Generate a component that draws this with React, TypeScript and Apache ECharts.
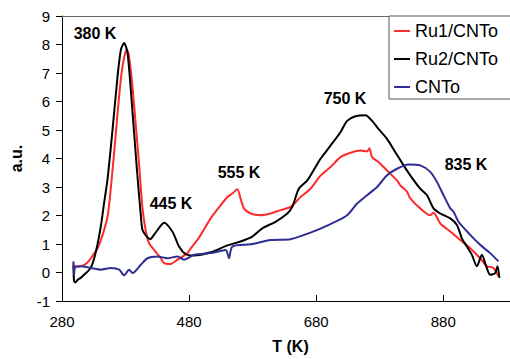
import React, { useEffect, useRef } from "react";
import * as echarts from "echarts";

const seriesNames = ["Ru1/CNTo", "Ru2/CNTo", "CNTo"];
const seriesColors = ["#ff2a2a", "#000000", "#2e2e94"];

const xTicks = [280, 480, 680, 880];

const peakLabels = ["380 K", "445 K", "555 K", "750 K", "835 K"];

// [T (K), a.u.]
const ru1: [number, number][] = [
  [298, 0.32], [299, 0.15], [301, 0.22], [306, 0.2], [315, 0.27], [320, 0.35], [325.5, 0.5],
  [331, 0.68], [336, 0.85], [344, 1.32], [352, 2.01], [357, 3.0], [362, 4.2], [367.5, 5.6],
  [372.7, 6.8], [377.8, 7.55], [382, 7.82], [385.7, 7.55], [391, 6.5], [396.2, 5.15],
  [401.4, 3.76], [406.7, 2.25], [412, 1.44], [417, 1.03], [425, 0.79], [435.5, 0.5],
  [440.7, 0.33], [451, 0.3], [461.7, 0.45], [477.4, 0.68], [482.6, 0.85], [493, 1.14],
  [498.3, 1.32], [514, 1.9], [529.7, 2.36], [540.3, 2.65], [548, 2.77], [556, 2.92],
  [561, 2.6], [566.3, 2.25], [576.8, 2.07], [592.5, 2.01], [608.3, 2.07], [624, 2.19],
  [639.7, 2.3], [655.4, 2.65], [671, 2.94], [686.8, 3.4], [702.5, 3.7], [718.2, 4.05],
  [734, 4.2], [749.6, 4.28], [760, 4.25], [763.7, 4.36], [768, 4.05], [778.4, 3.87],
  [791.5, 3.58], [807.2, 3.23], [812.4, 3.06], [823, 2.83], [828, 2.6], [843.8, 2.25],
  [859.5, 2.01], [864.7, 2.1], [875.3, 1.72], [891, 1.44], [906.7, 1.14], [922.4, 0.85],
  [938, 0.5], [948.6, 0.22], [959, 0.16], [966.8, -0.13],
];

const ru2: [number, number][] = [
  [298, 0.25], [299, -0.3], [301, -0.35], [305, -0.25], [310, -0.18], [316, -0.05],
  [321, 0.05], [326, 0.2], [330.7, 0.5], [336, 1.0], [341.3, 1.65], [346, 2.4], [351.8, 3.3],
  [359.6, 5.03], [367.5, 6.9], [372.7, 7.82], [377.8, 8.05], [383.2, 7.7], [391, 5.62],
  [397.8, 3.64], [404, 2.01], [406.7, 1.49], [413.5, 1.26], [418.7, 1.17], [427.6, 1.41],
  [440.7, 1.75], [453.9, 1.43], [464.2, 0.91], [474.8, 0.64], [487.8, 0.6], [514, 0.71],
  [540.3, 0.95], [561, 1.09], [579.5, 1.26], [595.2, 1.55], [616, 1.78], [634.5, 2.07],
  [642.3, 2.3], [652.7, 2.94], [666, 3.23], [679, 3.7], [686.8, 3.99], [702.5, 4.45],
  [718.2, 4.92], [728.7, 5.32], [741.8, 5.48], [757.5, 5.52], [768, 5.32], [778.4, 5.03],
  [791.5, 4.69], [804.6, 4.22], [817.6, 3.76], [828, 3.41], [843.8, 2.94], [854.4, 2.71],
  [864.7, 2.25], [875.3, 2.07], [891, 1.9], [901.5, 1.67], [909.3, 1.2], [917.2, 0.91],
  [925, 0.62], [932.9, 0.22], [940.7, 0.62], [947.5, 0.22], [953.8, -0.08], [961.6, -0.02],
  [965.3, 0.22], [968.4, -0.19],
];

const cnto: [number, number][] = [
  [298, 0.39], [299, -0.08], [301, 0.2], [309.8, 0.22], [325.5, 0.16], [341.3, 0.1],
  [357, 0.16], [370, 0.1], [377.8, -0.1], [385.7, 0.1], [391, -0.02], [404, 0.27],
  [414.6, 0.5], [430.3, 0.56], [446, 0.5], [461.7, 0.56], [472, 0.45], [487.8, 0.62],
  [514, 0.68], [537.6, 0.79], [542.8, 0.5], [548, 0.91], [576.8, 0.99], [608.3, 1.14],
  [639.7, 1.17], [671, 1.4], [702.5, 1.7], [728.7, 2.01], [744.4, 2.42], [760, 2.71],
  [775.8, 3.0], [791.5, 3.41], [807.2, 3.64], [825.5, 3.79], [843.8, 3.76], [859.5, 3.53],
  [870, 3.18], [880.4, 2.71], [891, 2.25], [896.2, 2.13], [904, 1.78], [922.4, 1.32],
  [938, 0.97], [953.8, 0.68], [966.8, 0.39],
];

const seriesData = [ru1, ru2, cnto];

const FONT = "'Liberation Sans', Arial, sans-serif";

export default function App() {
  const ref = useRef<HTMLDivElement>(null);
  useEffect(() => {
    document.body.style.margin = "0";
    if (!ref.current) return;
    const chart = echarts.init(ref.current, undefined, { renderer: "svg" });
    const labelPos = [
      [95, 33],
      [171, 203],
      [239, 172],
      [345, 98],
      [466, 164],
    ];
    chart.setOption({
      animation: false,
      backgroundColor: "#fff",
      grid: { left: 61, right: 0, top: 16, bottom: 56, containLabel: false },
      legend: {
        data: seriesNames,
        orient: "vertical",
        left: 389,
        top: 16,
        icon: "rect",
        itemWidth: 16,
        itemHeight: 2,
        itemGap: 10,
        padding: [6, 30, 3, 5],
        backgroundColor: "#fff",
        borderColor: "#555",
        borderWidth: 1,
        borderRadius: 0,
        textStyle: { fontSize: 18, color: "#000", fontFamily: FONT },
      },
      xAxis: [
        {
          type: "value",
          min: 280,
          max: 985,
          interval: 200,
          name: "T (K)",
          nameLocation: "middle",
          nameGap: 37,
          nameTextStyle: { fontSize: 16, fontWeight: "bold", color: "#000", fontFamily: FONT, padding: [0, 0, 0, 9] },
          axisLine: { show: true, onZero: false, lineStyle: { color: "#000", width: 1 } },
          axisTick: { show: true, inside: true, length: 6, lineStyle: { color: "#000" } },
          axisLabel: {
            showMaxLabel: false,
            margin: 13,
            fontSize: 15,
            color: "#000",
            fontFamily: FONT,
            formatter: (v: number) => (xTicks.includes(v) ? String(v) : ""),
          },
          splitLine: { show: false },
        },
        {
          type: "value",
          position: "top",
          min: 280,
          max: 985,
          axisLine: { show: true, onZero: false, lineStyle: { color: "#666", width: 1 } },
          axisTick: { show: false },
          axisLabel: { show: false },
          splitLine: { show: false },
        },
      ],
      yAxis: {
        type: "value",
        min: -1,
        max: 9,
        interval: 1,
        name: "a.u.",
        nameLocation: "middle",
        nameGap: 38,
        nameTextStyle: { fontSize: 16, fontWeight: "bold", color: "#000", fontFamily: FONT },
        axisLine: { show: true, onZero: false, lineStyle: { color: "#000", width: 1 } },
        axisTick: { show: true, inside: false, length: 6, lineStyle: { color: "#000" } },
        axisLabel: { margin: 12, fontSize: 15, color: "#000", fontFamily: FONT },
        splitLine: { show: false },
      },
      series: seriesNames.map((name, i) => ({
        name,
        type: "line",
        data: seriesData[i],
        showSymbol: false,
        symbol: "none",
        smooth: 0.25,
        lineStyle: { color: seriesColors[i], width: 2 },
        itemStyle: { color: seriesColors[i] },
        z: 2 + i,
      })),
      graphic: peakLabels.map((t, i) => ({
        type: "text",
        x: labelPos[i][0],
        y: labelPos[i][1],
        z: 10,
        style: {
          text: t,
          fill: "#000",
          font: `bold 16px ${FONT}`,
          align: "center",
          verticalAlign: "middle",
        },
      })),
    });
    return () => chart.dispose();
  }, []);
  return <div ref={ref} style={{ width: 510, height: 359 }} />;
}
